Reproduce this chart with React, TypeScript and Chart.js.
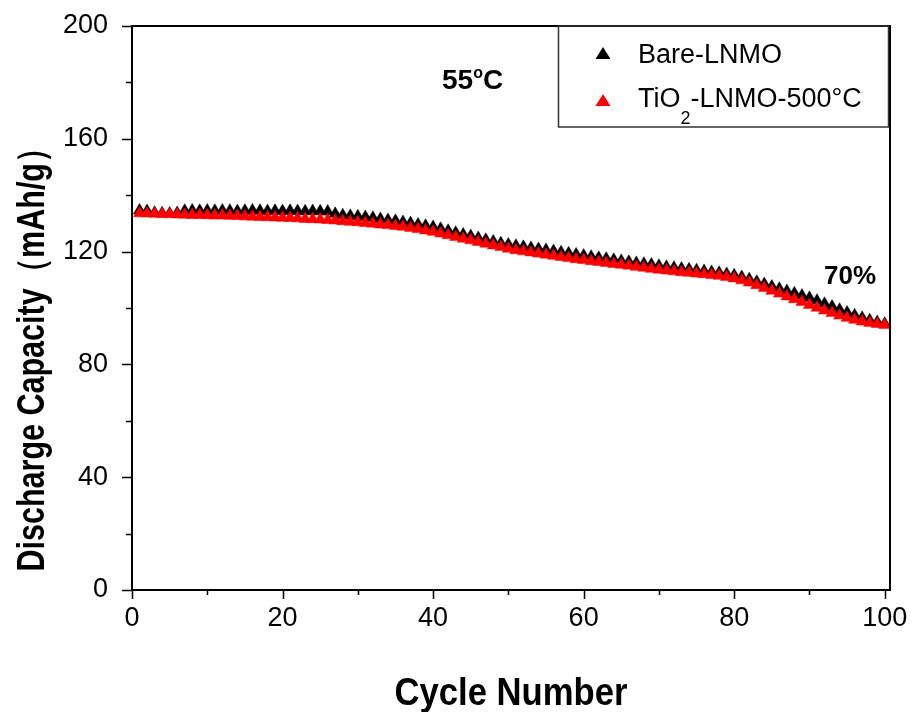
import React, { useEffect, useRef } from "react";
import { Chart, registerables } from "chart.js";

Chart.register(...registerables);

const cycles = [
  1, 2, 3, 4, 5, 6, 7, 8, 9, 10, 11, 12, 13, 14, 15, 16, 17, 18, 19, 20,
  21, 22, 23, 24, 25, 26, 27, 28, 29, 30, 31, 32, 33, 34, 35, 36, 37, 38, 39, 40,
  41, 42, 43, 44, 45, 46, 47, 48, 49, 50, 51, 52, 53, 54, 55, 56, 57, 58, 59, 60,
  61, 62, 63, 64, 65, 66, 67, 68, 69, 70, 71, 72, 73, 74, 75, 76, 77, 78, 79, 80,
  81, 82, 83, 84, 85, 86, 87, 88, 89, 90, 91, 92, 93, 94, 95, 96, 97, 98, 99, 100,
];

const bareLNMO = [
  134.6, 134.4, 133.8, 133.6, 133.5, 133.7, 134.5, 134.6, 134.5, 134.6,
  134.5, 134.6, 134.5, 134.4, 134.5, 134.6, 134.5, 134.4, 134.5, 134.4,
  134.5, 134.4, 134.3, 134.4, 134.3, 134.2, 133.4, 132.9, 132.7, 132.5,
  132.3, 132.0, 131.6, 131.2, 130.9, 130.5, 130.1, 129.6, 129.2, 128.7,
  128.1, 127.4, 126.7, 126.1, 125.5, 124.8, 124.2, 123.6, 123.0, 122.5,
  122.1, 121.7, 121.3, 120.9, 120.6, 120.2, 119.8, 119.4, 119.0, 118.6,
  118.2, 117.8, 117.5, 117.1, 116.7, 116.4, 116.0, 115.7, 115.4, 115.0,
  114.6, 114.3, 114.0, 113.7, 113.4, 113.1, 112.8, 112.5, 112.1, 111.6,
  111.0, 110.2, 109.3, 108.5, 107.6, 106.8, 106.0, 105.2, 104.4, 103.6,
  102.6, 101.5, 100.5, 99.4, 98.4, 97.4, 96.5, 95.7, 95.0, 94.4,
];

const tio2LNMO = [
  133.6, 133.5, 133.4, 133.3, 133.3, 133.2, 133.1, 133.0, 133.0, 132.9,
  132.8, 132.8, 132.7, 132.6, 132.5, 132.4, 132.3, 132.2, 132.1, 132.0,
  131.9, 131.8, 131.6, 131.5, 131.4, 131.2, 131.0, 130.8, 130.6, 130.4,
  130.1, 129.9, 129.6, 129.4, 129.1, 128.8, 128.4, 128.0, 127.5, 127.0,
  126.4, 125.8, 125.2, 124.6, 124.0, 123.4, 122.8, 122.2, 121.6, 121.0,
  120.5, 120.1, 119.7, 119.3, 118.9, 118.5, 118.1, 117.7, 117.3, 117.0,
  116.6, 116.3, 116.0, 115.6, 115.3, 115.0, 114.6, 114.3, 113.9, 113.6,
  113.3, 113.0, 112.7, 112.5, 112.2, 112.0, 111.7, 111.4, 111.0, 110.5,
  109.8, 109.0, 108.1, 107.1, 106.1, 105.1, 104.1, 103.1, 102.1, 101.1,
  100.1, 99.1, 98.2, 97.3, 96.5, 95.8, 95.2, 94.7, 94.3, 94.0,
];

const xMajorTicks = [0, 20, 40, 60, 80, 100];
const xMinorTicks = [10, 30, 50, 70, 90];
const yMajorTicks = [0, 40, 80, 120, 160, 200];
const yMinorTicks = [20, 60, 100, 140, 180];

const seriesNames = ["Bare-LNMO", "TiO", "2", "-LNMO-500°C"];
const xTitle = "Cycle Number";
const yTitle = "Discharge Capacity（mAh/g）";
const tempLabel = ["55", "o", "C"];
const retentionLabel = "70%";

const FONT = "'Liberation Sans', Arial, sans-serif";

function triangle(ctx: CanvasRenderingContext2D, cx: number, cy: number, w: number, h: number, color: string) {
  ctx.beginPath();
  ctx.moveTo(cx, cy - h / 2);
  ctx.lineTo(cx + w / 2, cy + h / 2);
  ctx.lineTo(cx - w / 2, cy + h / 2);
  ctx.closePath();
  ctx.fillStyle = color;
  ctx.fill();
}

function drawScaledText(
  ctx: CanvasRenderingContext2D,
  text: string,
  cx: number,
  cy: number,
  font: string,
  targetWidth: number,
  rotate: number
) {
  ctx.save();
  ctx.font = font;
  const w = ctx.measureText(text).width;
  const s = targetWidth / w;
  ctx.translate(cx, cy);
  ctx.rotate(rotate);
  ctx.scale(s, 1);
  ctx.textAlign = "center";
  ctx.textBaseline = "alphabetic";
  ctx.fillStyle = "#000";
  ctx.fillText(text, 0, 0);
  ctx.restore();
}

const decorPlugin = {
  id: "decor",
  afterDraw(chart: any) {
    const ctx: CanvasRenderingContext2D = chart.ctx;
    const { left, right, top, bottom } = chart.chartArea;
    const xs = chart.scales.x;
    const ys = chart.scales.y;
    ctx.save();
    ctx.strokeStyle = "#000";
    ctx.lineWidth = 2;
    // frame (top & right)
    ctx.beginPath();
    ctx.moveTo(left, top);
    ctx.lineTo(right, top);
    ctx.lineTo(right, bottom);
    ctx.stroke();
    // ticks
    ctx.lineWidth = 1.5;
    ctx.beginPath();
    xMajorTicks.forEach((v) => {
      const p = Math.round(xs.getPixelForValue(v)) + 0.5;
      ctx.moveTo(p, bottom);
      ctx.lineTo(p, bottom + 9);
    });
    xMinorTicks.forEach((v) => {
      const p = Math.round(xs.getPixelForValue(v)) + 0.5;
      ctx.moveTo(p, bottom);
      ctx.lineTo(p, bottom + 5);
    });
    yMajorTicks.forEach((v) => {
      const p = Math.round(ys.getPixelForValue(v)) + 0.5;
      ctx.moveTo(left, p);
      ctx.lineTo(left - 10, p);
    });
    yMinorTicks.forEach((v) => {
      const p = Math.round(ys.getPixelForValue(v)) + 0.5;
      ctx.moveTo(left, p);
      ctx.lineTo(left - 6, p);
    });
    ctx.stroke();

    // legend box
    ctx.lineWidth = 1.5;
    ctx.strokeStyle = "#333";
    ctx.strokeRect(558.5, top, 330, 101);
    triangle(ctx, 603, top + 27, 15, 12, "#000");
    triangle(ctx, 603, top + 74, 15, 12, "#ff0000");
    ctx.fillStyle = "#000";
    ctx.textBaseline = "alphabetic";
    ctx.textAlign = "left";
    ctx.font = `27px ${FONT}`;
    ctx.fillText(seriesNames[0], 638, top + 37);
    ctx.fillText(seriesNames[1], 638, top + 81);
    let x = 638 + ctx.measureText(seriesNames[1]).width;
    ctx.font = `18px ${FONT}`;
    ctx.fillText(seriesNames[2], x, top + 98);
    x += ctx.measureText(seriesNames[2]).width;
    ctx.font = `27px ${FONT}`;
    ctx.fillText(seriesNames[3], x, top + 81);

    // 55°C
    ctx.font = `bold 28px ${FONT}`;
    ctx.fillText(tempLabel[0], 442, 89);
    let tx = 442 + ctx.measureText(tempLabel[0]).width;
    ctx.font = `bold 16px ${FONT}`;
    ctx.fillText(tempLabel[1], tx, 78);
    tx += ctx.measureText(tempLabel[1]).width;
    ctx.font = `bold 28px ${FONT}`;
    ctx.fillText(tempLabel[2], tx, 89);

    // 70%
    ctx.font = `bold 26px ${FONT}`;
    ctx.fillText(retentionLabel, 824, 284);

    // axis titles
    drawScaledText(ctx, xTitle, (left + right) / 2, 705, `bold 38px ${FONT}`, 233, 0);
    drawScaledText(ctx, yTitle, 44, 352, `bold 38px ${FONT}`, 439, -Math.PI / 2);
    ctx.restore();
  },
};

export default function App() {
  const ref = useRef<HTMLCanvasElement>(null);
  useEffect(() => {
    if (!ref.current) return;
    const chart = new Chart(ref.current, {
      type: "scatter",
      data: {
        datasets: [
          {
            label: "Bare-LNMO",
            data: cycles.map((c, i) => ({ x: c, y: bareLNMO[i] })),
            pointStyle: "triangle",
            pointRadius: 7,
            backgroundColor: "#000",
            borderColor: "#000",
            pointBorderWidth: 0.5,
            order: 1,
          },
          {
            label: "TiO2-LNMO-500°C",
            data: cycles.map((c, i) => ({ x: c, y: tio2LNMO[i] })),
            pointStyle: "triangle",
            pointRadius: 7,
            backgroundColor: "#ff0000",
            borderColor: "#ff0000",
            pointBorderWidth: 0.5,
            order: 0,
          },
        ],
      },
      options: {
        animation: false,
        responsive: false,
        devicePixelRatio: 1,
        clip: false as any,
        layout: { padding: { top: 26, right: 22, left: 0, bottom: 0 } },
        plugins: { legend: { display: false }, tooltip: { enabled: false } },
        scales: {
          x: {
            type: "linear",
            min: 0,
            max: 100.7,
            afterBuildTicks: (s: any) => {
              s.ticks = xMajorTicks.map((v) => ({ value: v }));
            },
            afterFit: (s: any) => {
              s.height = 122;
              s.paddingLeft = 0;
              s.paddingRight = 0;
            },
            grid: { display: false },
            border: { display: true, color: "#000", width: 2 },
            ticks: {
              color: "#000",
              font: { family: FONT, size: 27 },
              padding: 4,
              maxRotation: 0,
            },
          },
          y: {
            type: "linear",
            min: 0,
            max: 200,
            afterBuildTicks: (s: any) => {
              s.ticks = yMajorTicks.map((v) => ({ value: v }));
            },
            afterFit: (s: any) => {
              s.width = 132;
              s.paddingTop = 0;
              s.paddingBottom = 0;
            },
            grid: { display: false },
            border: { display: true, color: "#000", width: 2 },
            ticks: {
              color: "#000",
              font: { family: FONT, size: 27 },
              padding: 16,
            },
          },
        },
      },
      plugins: [decorPlugin],
    });
    return () => chart.destroy();
  }, []);
  return (
    <div style={{ position: "absolute", left: 0, top: 0, width: 912, height: 712, background: "#fff" }}>
      <canvas ref={ref} width={912} height={712} style={{ width: 912, height: 712 }} />
    </div>
  );
}
